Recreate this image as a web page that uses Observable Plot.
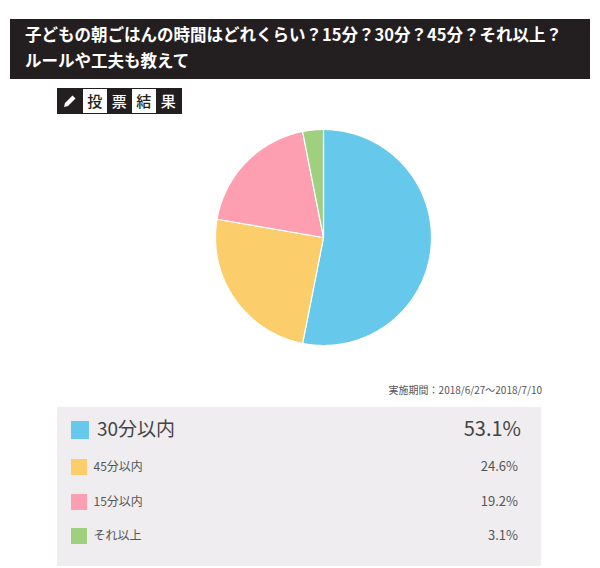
<!DOCTYPE html>
<html lang="ja">
<head>
<meta charset="utf-8">
<script src="https://cdn.jsdelivr.net/npm/d3@7"></script>
<script src="https://cdn.jsdelivr.net/npm/@observablehq/plot@0.6"></script>
<style>
  html, body { margin: 0; padding: 0; background: #fff; }
  body { position: relative; width: 600px; height: 568px; overflow: hidden; font-family: "Noto Sans CJK JP", sans-serif; color: #444; }
  .abs { position: absolute; }
  #title { left: 10px; top: 19px; width: 580px; height: 60px; box-sizing: border-box; background: #231f20; color: #fff; font-weight: 700; font-size: 16.5px; line-height: 26px; padding: 2px 0 0 15px; white-space: pre-line; }
  #badge { left: 57px; top: 88px; width: 125px; height: 26px; background: #231f20; display: flex; align-items: center; padding: 1px 0; box-sizing: border-box; }
  #badge .icon { width: 26px; display: flex; justify-content: center; }
  #badge span { width: 23.5px; height: 24px; margin-right: 1px; text-align: center; font-size: 15px; line-height: 24px; font-weight: 500; color: #fff; }
  #badge span.on { background: #fff; color: #231f20; }
  #pie { left: 0; top: 115px; }
  #period { right: 58px; top: 383px; font-size: 10px; line-height: 14px; color: #555; white-space: nowrap; }
  #panel { left: 57px; top: 407px; width: 484px; height: 159px; background: #efedef; }
  .sw, .lab, .val { position: absolute; white-space: nowrap; }
</style>
</head>
<body>
<div id="title" class="abs"></div>
<div id="badge" class="abs"></div>
<div id="pie" class="abs"></div>
<div id="period" class="abs"></div>
<div id="panel" class="abs"></div>
<script>
const titleText = "子どもの朝ごはんの時間はどれくらい？15分？30分？45分？それ以上？\nルールや工夫も教えて";
const badgeChars = ["投", "票", "結", "果"];
const periodText = "実施期間：2018/6/27～2018/7/10";
const categories = ["30分以内", "45分以内", "15分以内", "それ以上"];
const percents = [53.1, 24.6, 19.2, 3.1];
const colors = ["#66c9ec", "#fbcd6b", "#fd9fb0", "#9ed07f"];

document.getElementById("title").textContent = titleText;
document.getElementById("period").textContent = periodText;

const badge = document.getElementById("badge");
const icon = document.createElement("div");
icon.className = "icon";
icon.innerHTML = '<svg width="14" height="14" viewBox="0 0 14 14"><path d="M1 13l1-4 7.5-7.5 3 3L5 12z" fill="#fff"/></svg>';
badge.appendChild(icon);
badgeChars.forEach((c, i) => {
  const s = document.createElement("span");
  s.textContent = c;
  if (i % 2 === 0) s.className = "on";
  badge.appendChild(s);
});

// Each slice is a closed outline in unit-circle coordinates, derived from the percentages.
const sliceRows = [];
const total = d3.sum(percents);
let running = 0;
categories.forEach((category, i) => {
  const a0 = (running / total) * 2 * Math.PI;
  running += percents[i];
  const a1 = (running / total) * 2 * Math.PI;
  sliceRows.push({category, px: 0, py: 0});
  const steps = Math.max(2, Math.ceil((a1 - a0) / 0.01));
  d3.range(steps + 1).forEach(k => {
    const a = a0 + (a1 - a0) * k / steps;
    sliceRows.push({category, px: Math.sin(a), py: Math.cos(a)});
  });
});

const chart = Plot.plot({
  width: 600,
  height: 250,
  marginLeft: 215,
  marginRight: 169,
  marginTop: 14,
  marginBottom: 20,
  x: {domain: [-1, 1], axis: null},
  y: {domain: [-1, 1], axis: null},
  color: {domain: categories, range: colors},
  marks: [
    Plot.line(sliceRows, {
      x: "px", y: "py", z: "category",
      fill: "category",
      stroke: "#fff", strokeWidth: 1.2,
      curve: "linear-closed"
    })
  ]
});
document.getElementById("pie").appendChild(chart);

const panel = document.getElementById("panel");
const rowLayout = [
  {swL: 13.5, swT: 13.5, sw: 18.5, labL: 40, labT: 8, labF: 19, valR: 20, valF: 20, lh: 26, color: "#444"},
  {swL: 13.5, swT: 52, sw: 16, labL: 36.5, labT: 49.5, labF: 12, valR: 23, valF: 13, lh: 18, color: "#555"},
  {swL: 13.5, swT: 87, sw: 16, labL: 36.5, labT: 84.5, labF: 12, valR: 23, valF: 13, lh: 18, color: "#555"},
  {swL: 13.5, swT: 121, sw: 16, labL: 36.5, labT: 119, labF: 12, valR: 23, valF: 13, lh: 18, color: "#555"}
];
categories.forEach((c, i) => {
  const r = rowLayout[i];
  const sw = document.createElement("div");
  sw.className = "sw";
  sw.style.cssText = `left:${r.swL}px;top:${r.swT}px;width:${r.sw}px;height:${r.sw}px;background:${colors[i]}`;
  panel.appendChild(sw);
  const lab = document.createElement("div");
  lab.className = "lab";
  lab.textContent = c;
  lab.style.cssText = `left:${r.labL}px;top:${r.labT}px;font-size:${r.labF}px;line-height:${r.lh}px;color:${r.color}`;
  panel.appendChild(lab);
  const val = document.createElement("div");
  val.className = "val";
  val.textContent = percents[i].toFixed(1) + "%";
  val.style.cssText = `right:${r.valR}px;top:${r.labT}px;font-size:${r.valF}px;line-height:${r.lh}px;color:${r.color}`;
  panel.appendChild(val);
});
</script>
</body>
</html>
